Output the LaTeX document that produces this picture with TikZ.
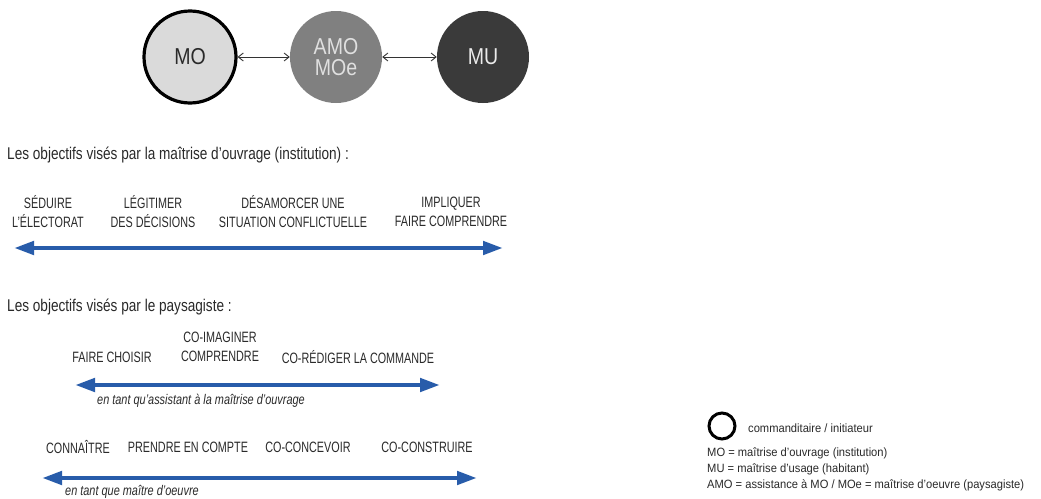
\documentclass[tikz,border=0pt]{standalone}
\usepackage{fontspec}
\setmainfont{Liberation Sans}
\newfontfamily\narrowfont[FakeStretch=0.72]{Liberation Sans}
\newfontfamily\headfont[FakeStretch=0.8]{Liberation Sans}
\newfontfamily\rolefont[FakeStretch=0.78]{Liberation Sans}
\newfontfamily\actorfont[FakeStretch=0.85]{Liberation Sans}
\newfontfamily\legendfont[FakeStretch=0.93]{Liberation Sans}
\usetikzlibrary{arrows.meta,positioning}

\definecolor{blueline}{RGB}{40,92,170}
\definecolor{txtgray}{RGB}{42,42,42}
\definecolor{mofill}{RGB}{218,218,218}
\definecolor{amofill}{RGB}{128,128,128}
\definecolor{mufill}{RGB}{58,58,58}

\tikzset{
    actor/.style={circle, minimum size=92pt, inner sep=0pt, font=\actorfont\fontsize{23}{24}\selectfont, align=center},
    heading/.style={anchor=west, inner sep=0pt, text=txtgray, font=\headfont\fontsize{17}{19}\selectfont},
    goal/.style={inner sep=0pt, align=center, text=txtgray, font=\narrowfont\fontsize{15}{19}\selectfont},
    role/.style={anchor=west, inner sep=0pt, text=txtgray, font=\rolefont\itshape\fontsize{14}{15}\selectfont},
    legend/.style={anchor=west, inner sep=0pt, text=txtgray, font=\legendfont\fontsize{12}{14}\selectfont},
    link/.style={<->, >={Straight Barb[length=5pt,width=8pt]}, line width=0.9pt, black!80},
    scale line/.style={blueline, line width=4.5pt, {Triangle[length=20pt,width=13pt]}-{Triangle[length=20pt,width=13pt]}}
}

\begin{document}
\begin{tikzpicture}[x=1pt,y=-1pt]
    \useasboundingbox[fill=white] (0,0) rectangle (1041,498);

    % Actors
    \node[actor, draw=black, line width=3.2pt, fill=mofill, text=txtgray] (mo) at (190,57) {MO};
    \node[actor, fill=amofill, text=white!88!black] (amo) at (336,57) {AMO\\[-3pt]MOe};
    \node[actor, fill=mufill, text=white!92!black] (mu) at (483,57) {MU};
    \draw[link] (mo) -- (amo);
    \draw[link] (amo) -- (mu);

    % Institution goals
    \node[heading] (inst) at (7,155) {Les objectifs visés par la maîtrise d’ouvrage (institution) :};
    \node[goal] (seduire) at (48,212) {SÉDUIRE\\L’ÉLECTORAT};
    \node[goal] (legitimer) at (153,212) {LÉGITIMER\\DES DÉCISIONS};
    \node[goal] (desamorcer) at (293,212) {DÉSAMORCER UNE\\SITUATION CONFLICTUELLE};
    \node[goal] (impliquer) at (451,212) {IMPLIQUER\\FAIRE COMPRENDRE};
    \coordinate (instL) at (14,248);
    \coordinate (instR) at (503,248);
    \draw[scale line] (instL) -- (instR);

    % Landscape architect goals
    \node[heading] (pays) at (7,307) {Les objectifs visés par le paysagiste :};
    \node[goal] (choisir) at (112,357) {FAIRE CHOISIR};
    \node[goal] (imaginer) at (220,347) {CO-IMAGINER\\COMPRENDRE};
    \node[goal] (rediger) at (358,357) {CO-RÉDIGER LA COMMANDE};
    \coordinate (amoL) at (75,385);
    \coordinate (amoR) at (440,385);
    \draw[scale line] (amoL) -- (amoR);
    \node[role] (asAMO) at (97,401) {en tant qu’assistant à la maîtrise d’ouvrage};

    \node[goal] (connaitre) at (78,447) {CONNAÎTRE};
    \node[goal] (prendre) at (188,447) {PRENDRE EN COMPTE};
    \node[goal] (concevoir) at (308,447) {CO-CONCEVOIR};
    \node[goal] (construire) at (427,447) {CO-CONSTRUIRE};
    \coordinate (moeL) at (42,478);
    \coordinate (moeR) at (477,478);
    \draw[scale line] (moeL) -- (moeR);
    \node[role] (asMOe) at (65,492) {en tant que maître d’oeuvre};

    % Legend
    \node[circle, draw=black, line width=3pt, minimum size=26pt, inner sep=0pt] (ring) at (722,426) {};
    \node[legend] (initiateur) at (748,428) {commanditaire / initiateur};
    \node[legend] (legMO) at (707,453) {MO = maîtrise d’ouvrage (institution)};
    \node[legend] (legMU) at (707,469) {MU = maîtrise d’usage (habitant)};
    \node[legend] (legAMO) at (707,485) {AMO = assistance à MO / MOe = maîtrise d’oeuvre (paysagiste)};
\end{tikzpicture}
\end{document}
